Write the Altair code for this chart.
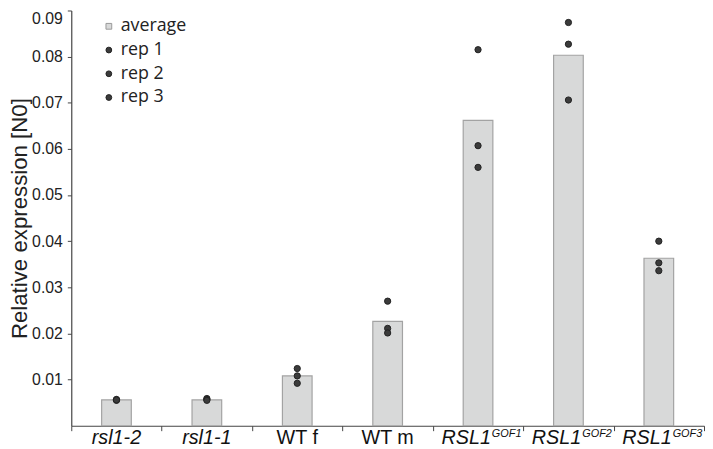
import altair as alt
import pandas as pd

categories = ["rsl1-2", "rsl1-1", "WT f", "WT m", "RSL1 GOF1", "RSL1 GOF2", "RSL1 GOF3"]
label_main = ["rsl1-2", "rsl1-1", "WT f", "WT m", "RSL1", "RSL1", "RSL1"]
label_sup = ["", "", "", "", "GOF1", "GOF2", "GOF3"]
label_italic = [True, True, False, False, True, True, True]

average = [0.0056, 0.0056, 0.0108, 0.0226, 0.0662, 0.0803, 0.0363]
rep1 = [0.0057, 0.0059, 0.0124, 0.0270, 0.0815, 0.0874, 0.0400]
rep2 = [0.0055, 0.0057, 0.0108, 0.0211, 0.0607, 0.0827, 0.0353]
rep3 = [0.0056, 0.0055, 0.0092, 0.0201, 0.0560, 0.0706, 0.0336]

series_names = ["average", "rep 1", "rep 2", "rep 3"]
y_ticks = [0.01, 0.02, 0.03, 0.04, 0.05, 0.06, 0.07, 0.08, 0.09]

bars_df = pd.DataFrame({"cat": categories, "value": average, "series": "average"})
reps = []
for name, vals in [("rep 1", rep1), ("rep 2", rep2), ("rep 3", rep3)]:
    for c, v in zip(categories, vals):
        reps.append({"cat": c, "value": v, "series": name})
reps_df = pd.DataFrame(reps)
labels_df = pd.DataFrame({"cat": categories, "main": label_main, "sup": label_sup,
                          "italic": label_italic})
labels_df["has_sup"] = labels_df["sup"] != ""

YTITLE = "Relative expression [N0]"
xscale = alt.Scale(domain=categories, paddingInner=0, paddingOuter=0)
yscale = alt.Scale(domain=[0, 0.09], nice=False)
yaxis = alt.Axis(values=y_ticks, format=".2f", title=YTITLE)
color_scale = alt.Scale(domain=series_names, range=["#d8d9d9", "#3b3b3b", "#3b3b3b", "#3b3b3b"])
shape_scale = alt.Scale(domain=series_names, range=["square", "circle", "circle", "circle"])
stroke_scale = alt.Scale(domain=series_names, range=["#9a9a9a", "#222222", "#222222", "#222222"])
legend = alt.Legend(orient="none", legendX=29, legendY=7, title=None,
                    labelFont="Open Sans", labelFontSize=18, labelColor="#222",
                    symbolSize=34, symbolStrokeWidth=1, labelOffset=3,
                    rowPadding=6, padding=0, symbolOpacity=1)

X = alt.X("cat:N", scale=xscale, sort=None, title=None)

bars = alt.Chart(bars_df).mark_bar(width=30, stroke="#a3a3a3", strokeWidth=1.2).encode(
    x=X,
    y=alt.Y("value:Q", scale=yscale, axis=yaxis),
    color=alt.Color("series:N", scale=color_scale, legend=legend),
)

points = alt.Chart(reps_df).mark_point(filled=True, size=40, opacity=1, strokeWidth=1).encode(
    x=X,
    y=alt.Y("value:Q", scale=yscale, axis=yaxis),
    color=alt.Color("series:N", scale=color_scale, legend=legend),
    shape=alt.Shape("series:N", scale=shape_scale, legend=legend),
    stroke=alt.Stroke("series:N", scale=stroke_scale, legend=legend),
)

base_lbl = alt.Chart(labels_df).encode(
    x=X,
    y=alt.Y(datum=0, type="quantitative", scale=yscale, axis=yaxis),
)

lbl_plain_italic = base_lbl.transform_filter("datum.italic && !datum.has_sup").mark_text(
    font="Liberation Sans", fontSize=20, fontStyle="italic", color="#111",
    baseline="alphabetic", align="center", dy=18).encode(text="main:N")
lbl_plain = base_lbl.transform_filter("!datum.italic").mark_text(
    font="Liberation Sans", fontSize=20, color="#111",
    baseline="alphabetic", align="center", dy=18).encode(text="main:N")
lbl_main_sup = base_lbl.transform_filter("datum.has_sup").mark_text(
    font="Liberation Sans", fontSize=20, fontStyle="italic", color="#111",
    baseline="alphabetic", align="right", dx=13, dy=18).encode(text="main:N")
lbl_sup = base_lbl.transform_filter("datum.has_sup").mark_text(
    font="Liberation Sans", fontSize=11, fontStyle="italic", color="#111",
    baseline="alphabetic", align="left", dx=14, dy=11).encode(text="sup:N")

chart = alt.layer(bars, points, lbl_plain_italic, lbl_plain, lbl_main_sup, lbl_sup).properties(
    width=640, height=420,
    autosize=alt.AutoSizeParams(type="none"),
    padding={"left": 64, "top": 0, "right": 1, "bottom": 20},
).configure_view(stroke=None).configure_axisY(
    grid=False, labelFlush=True,
    domainColor="#444", tickColor="#444", tickSize=4, domainWidth=1.2,
    labelFont="Liberation Sans", labelFontSize=16, labelColor="#222", labelPadding=5,
    titleFont="Liberation Sans", titleFontSize=22.5, titleFontWeight="normal",
    titleColor="#222", titlePadding=0,
).configure_axisX(
    labels=False, grid=False, domainColor="#444", tickColor="#444", tickSize=5,
    domainWidth=1.2, tickBand="extent",
)

chart.save("out.html", embed_options={"renderer": "svg", "actions": False})
